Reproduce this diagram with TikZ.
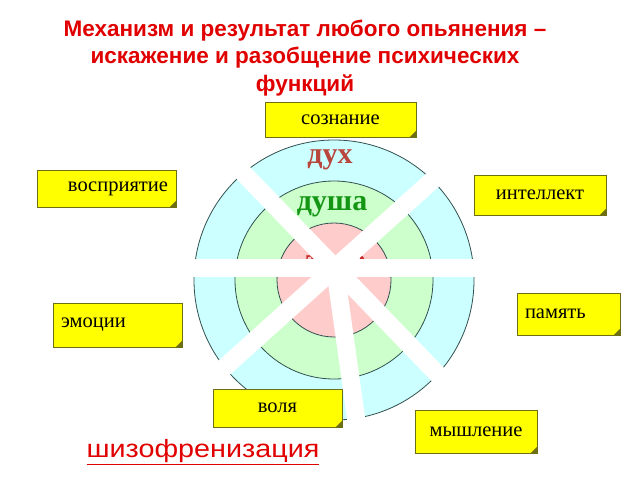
\documentclass[tikz,border=0pt]{standalone}
\usepackage{fontspec}
\setmainfont{Liberation Serif}
\setsansfont{Liberation Sans}
\newfontfamily\boxfont{Liberation Serif}
\usetikzlibrary{positioning}
\definecolor{titlered}{RGB}{225,0,0}
\definecolor{boxfill}{RGB}{255,255,0}
\definecolor{boxline}{RGB}{110,110,20}
\definecolor{ringout}{RGB}{204,255,255}
\definecolor{ringmid}{RGB}{204,255,204}
\definecolor{ringin}{RGB}{255,204,204}
\definecolor{ringline}{RGB}{50,80,80}
\definecolor{spiritred}{RGB}{185,70,60}
\definecolor{soulgreen}{RGB}{20,150,20}
\definecolor{bodyred}{RGB}{200,40,40}
\tikzset{
  fbox/.style={draw=boxline, fill=boxfill, line width=0.8pt, inner xsep=8pt, inner ysep=0pt,
    font=\boxfont\fontsize{20.5}{22}\selectfont},
  gap/.style={draw=white, line width=18pt},
  ring/.style={draw=ringline, line width=0.8pt},
  layer/.style={font=\boxfont\bfseries\fontsize{30}{32}\selectfont}
}
% name, cx, cy, width, height, align, text
\newcommand{\foldbox}[7]{
  \pgfmathsetmacro{\tw}{#4-16}
  \node[fbox, text width=\tw pt, minimum height=#5pt, align=#6] (#1) at (#2,#3) {#7};
  \fill[boxline] ([xshift=-7pt]#1.south east) -- (#1.south east) -- ([yshift=7pt]#1.south east) -- cycle;
}

\begin{document}
\begin{tikzpicture}[x=1pt,y=-1pt]
\useasboundingbox (0,0) rectangle (640,480);
\node[text=titlered, align=center, font=\sffamily\bfseries\fontsize{22.5}{27.5}\selectfont] (head) at (305,58)
  {Механизм и результат любого опьянения –\\искажение и разобщение психических\\функций};
% rings
\coordinate (ctr) at (334,280);
\foreach \r/\c in {140/ringout,99/ringmid,57/ringin}
  \draw[ring, fill=\c] (ctr) circle (\r);
\node[layer, text=spiritred] (spirit) at (330,160) {дух};
\node[layer, text=soulgreen] (soul) at (332,207) {душа};
\node[layer, text=bodyred] (body) at (336,263) {тело};
% white cuts
\coordinate (hub) at (335,268);
\foreach \a/\l in {0/150,180/150,46/165,226/160,318/145,138/170,82/160}
  \draw[gap] (hub) -- +(\a:\l);
% boxes
\foldbox{consc}{340.5}{119.5}{151}{35}{center}{сознание}
\foldbox{perc}{106.5}{188.5}{139}{37}{right}{восприятие}
\foldbox{intel}{540}{195}{132}{40}{center}{интеллект}
\foldbox{emo}{117.5}{325}{129}{44}{left}{эмоции}
\foldbox{mem}{568.5}{314}{103}{42}{left}{память}
\foldbox{will}{277.5}{408}{129}{38}{center}{воля}
\foldbox{think}{476}{431.5}{122}{43}{center}{мышление}
\node[text=titlered, xscale=1.15, font=\sffamily\fontsize{25}{28}\selectfont] (schizo) at (203,452) {\underline{шизофренизация}};
\end{tikzpicture}
\end{document}
